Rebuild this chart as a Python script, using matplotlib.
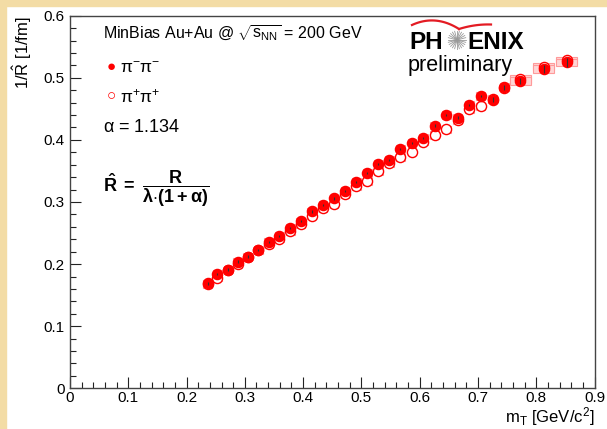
import numpy as np
import matplotlib
matplotlib.use('Agg')
import matplotlib.pyplot as plt
from matplotlib.patches import Rectangle
from matplotlib.ticker import MultipleLocator, FuncFormatter

plt.rcParams['font.family'] = ['Liberation Sans', 'DejaVu Sans']
plt.rcParams['mathtext.fontset'] = 'custom'
plt.rcParams['mathtext.rm'] = 'Liberation Sans'
plt.rcParams['mathtext.it'] = 'Liberation Sans:italic'
plt.rcParams['mathtext.bf'] = 'Liberation Sans:bold'

# data
mt = [0.236, 0.253, 0.271, 0.288, 0.305, 0.323, 0.341, 0.359, 0.378, 0.396,
      0.415, 0.434, 0.453, 0.472, 0.491, 0.510, 0.529, 0.548, 0.567, 0.587,
      0.606, 0.626, 0.646, 0.665, 0.685, 0.705, 0.725, 0.745, 0.773, 0.813, 0.852]
pim = [0.169, 0.184, 0.191, 0.204, 0.212, 0.223, 0.236, 0.245, 0.258, 0.269,
       0.285, 0.295, 0.306, 0.318, 0.332, 0.347, 0.361, 0.368, 0.385, 0.395,
       0.403, 0.423, 0.440, 0.436, 0.456, 0.471, 0.465, 0.485, 0.495, 0.514, 0.525]
pip = [0.168, 0.178, 0.190, 0.200, 0.211, 0.222, 0.232, 0.241, 0.253, 0.264,
       0.278, 0.290, 0.297, 0.313, 0.326, 0.334, 0.350, 0.362, 0.372, 0.381,
       0.397, 0.408, 0.417, 0.432, 0.449, 0.454, 0.466, 0.484, 0.498, 0.518, 0.528]
# half widths of the systematic boxes
bin_hw = [0.0075] * 28 + [0.018, 0.018, 0.018]
sys_err = [0.006] * 31
stat_err = [0.002] * 26 + [0.004, 0.004, 0.005, 0.006, 0.007]

W, H = 607, 429


def px(x, y):
    return x / W, 1 - y / H


fig = plt.figure(figsize=(W / 100, H / 100), dpi=100)
fig.patch.set_facecolor('white')
fig.patches.append(Rectangle((0, 0), 6 / W, 1, transform=fig.transFigure,
                             color='#f3dca5', zorder=-5))
fig.patches.append(Rectangle((0, 1 - 6 / H), 1, 6 / H, transform=fig.transFigure,
                             color='#f3dca5', zorder=-5))

ax = fig.add_axes([70 / W, 1 - 388.3 / H, 524.5 / W, 372.6 / H])

for x, a, b, w, s in zip(mt, pim, pip, bin_hw, sys_err):
    for y in (b, a):
        ax.add_patch(Rectangle((x - w, y - s), 2 * w, 2 * s, facecolor='#ffd6d6',
                               edgecolor='#ff9a9a', lw=0.8, zorder=2))

ax.plot(mt, pip, 'o', ms=7.3, mfc='white', mec='red', mew=1.0, zorder=3)
ax.plot(mt, pim, 'o', ms=7.3, color='red', zorder=4)
ax.errorbar(mt, pim, yerr=stat_err, fmt='none', ecolor='#333333', elinewidth=0.8,
            zorder=5)

ax.set_xlim(0, 0.9)
ax.set_ylim(0, 0.6)
ax.xaxis.set_major_locator(MultipleLocator(0.1))
ax.xaxis.set_minor_locator(MultipleLocator(0.02))
ax.yaxis.set_major_locator(MultipleLocator(0.1))
ax.yaxis.set_minor_locator(MultipleLocator(0.02))
fmt = FuncFormatter(lambda v, p: '0' if abs(v) < 1e-9 else f'{v:.1f}')
ax.xaxis.set_major_formatter(fmt)
ax.yaxis.set_major_formatter(fmt)
ax.tick_params(which='both', direction='in', labelsize=11, color='#222222')
ax.tick_params(axis='x', pad=2)
ax.tick_params(axis='y', pad=4)
ax.tick_params(which='major', length=8, width=0.8)
ax.tick_params(which='minor', length=4, width=0.8)
for sp in ax.spines.values():
    sp.set_linewidth(1.0)
    sp.set_color('#444444')

ax.set_xlabel(r'm$_{\rm T}$ [GeV/c$^{\rm 2}$]', fontsize=12, loc='right', labelpad=0)
ax.set_ylabel(r'1/$\hat{\rm R}$ [1/fm]', fontsize=12, loc='top', labelpad=7)

# annotations
fig.text(*px(103, 38), r'MinBias Au+Au @ $\sqrt{\rm s_{NN}}$ = 200 GeV', fontsize=11.5)
fig.text(*px(111, 67), '\u25cf', color='red', fontsize=11, ha='center', va='center')
fig.text(*px(120, 73), r'$\mathrm{π}^{-}\mathrm{π}^{-}$', fontsize=12.5)
fig.text(*px(111, 96), '\u25cb', color='red', fontsize=11, ha='center', va='center')
fig.text(*px(120, 102), r'$\mathrm{π}^{+}\mathrm{π}^{+}$', fontsize=12.5)
fig.text(*px(103, 132), r'$\mathrm{α}$ = 1.134', fontsize=13)
fig.text(*px(103, 192), r'$\mathbf{\hat{R}\ =\ \dfrac{R}{λ{\cdot}(1+α)}}$', fontsize=13)

# PHENIX logo
fig.text(*px(409, 49), 'PH', fontsize=17.5, fontweight='bold')
fig.text(*px(467, 49), 'ENIX', fontsize=17.5, fontweight='bold')
cx, cy = px(457, 40)
for ang in np.linspace(0, np.pi, 12, endpoint=False):
    dx, dy = 9 * np.cos(ang) / W, 9 * np.sin(ang) / H
    fig.lines.append(plt.Line2D([cx - dx, cx + dx], [cy - dy, cy + dy],
                                transform=fig.transFigure, color='#999999', lw=0.6))
t = np.linspace(0, 1, 40)
xl = 412 + 47 * t
yl = 25 - 16 * t * (1 - t) * 1.6 + 4 * t
xr = 459 + 32 * t
yr = 29 - 10 * t * (1 - 0.55 * t)
fig.lines.append(plt.Line2D(xl / W, 1 - yl / H, transform=fig.transFigure,
                            color='#e31b23', lw=1.6))
fig.lines.append(plt.Line2D(xr / W, 1 - yr / H, transform=fig.transFigure,
                            color='#e31b23', lw=1.6))
fig.text(*px(408, 71), 'preliminary', fontsize=15.5)

fig.savefig('out.png', dpi=100)
